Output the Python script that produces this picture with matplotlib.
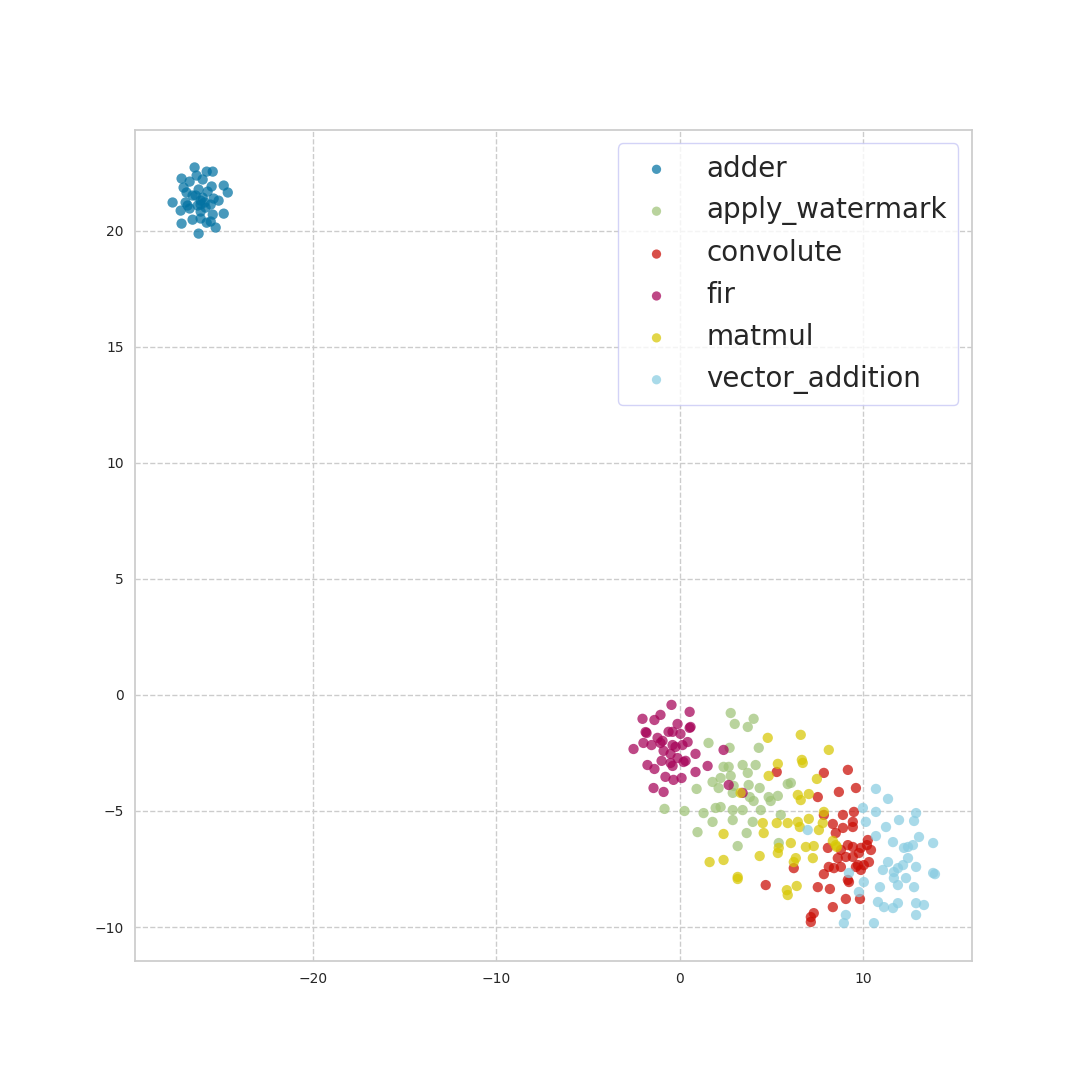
import numpy as np
import matplotlib
matplotlib.use("Agg")
import matplotlib.pyplot as plt

# --------------------------------------------------------------------------------
# DATA (t-SNE style 2D embedding)

labels = ["adder", "apply_watermark", "convolute", "fir", "matmul", "vector_addition"]
colors = ["#0272a2", "#9fc377", "#ca0b03", "#a50258", "#d7c703", "#88cce1"]

adder_x = [-26.45, -25.46, -25.79, -27.16, -26.34, -26.72, -26.01, -25.52, -27.05, -24.86,
           -26.23, -26.89, -25.74, -24.64, -26.56, -26.01, -25.41, -27.65, -26.94, -26.12,
           -25.90, -25.14, -27.21, -26.72, -26.12, -25.46, -24.86, -26.56, -26.12, -25.79,
           -27.16, -25.57, -25.30, -26.23, -26.83, -26.28, -25.85, -26.39, -26.12, -25.57]
adder_y = [22.72, 22.54, 22.54, 22.24, 22.37, 22.11, 22.20, 21.90, 21.85, 21.94,
           21.77, 21.64, 21.68, 21.64, 21.51, 21.42, 21.38, 21.21, 21.21, 21.29,
           21.21, 21.29, 20.86, 20.95, 20.82, 20.69, 20.73, 20.47, 20.52, 20.34,
           20.30, 20.39, 20.13, 19.87, 21.08, 21.08, 20.99, 21.51, 21.12, 21.12]

watermark_x = [2.79, 3.01, 4.04, 3.72, 1.58, 2.73, 4.32, 5.90, 2.40, 2.68,
               3.44, 4.15, 3.72, 1.80, 2.24, 2.79, 2.13, 2.95, 3.77, 4.37,
               2.90, 3.83, 4.04, 4.86, 5.36, 4.97, 0.93, 0.27, -0.82, 1.31,
               1.97, 2.24, 2.90, 3.44, 4.43, 5.52, 1.80, 2.90, 3.99, 0.98,
               3.66, 3.17, 5.41, 6.07]
watermark_y = [-0.78, -1.25, -1.03, -1.38, -2.07, -2.28, -2.28, -3.84, -3.10, -3.10,
               -3.02, -3.02, -3.36, -3.75, -3.58, -3.49, -4.01, -3.92, -3.88, -4.01,
               -4.22, -4.40, -4.57, -4.40, -4.35, -4.57, -4.05, -5.00, -4.91, -5.09,
               -4.87, -4.83, -4.96, -4.96, -4.96, -5.17, -5.47, -5.39, -5.47, -5.91,
               -5.95, -6.51, -6.38, -3.79]

convolute_x = [5.30, 9.18, 7.87, 9.62, 8.69, 7.54, 8.91, 9.51, 9.45, 7.87,
               8.36, 8.91, 8.52, 9.45, 8.09, 9.18, 9.45, 9.89, 9.78, 10.27,
               10.44, 8.80, 9.07, 8.63, 9.45, 9.73, 10.05, 10.33, 8.14, 8.42,
               8.80, 7.87, 9.62, 9.89, 6.23, 9.18, 9.24, 7.54, 8.20, 9.07,
               9.84, 7.32, 7.16, 7.16, 8.36, 4.70, 10.22]
convolute_y = [-3.32, -3.23, -3.36, -4.01, -4.18, -4.40, -5.17, -5.04, -5.47, -5.17,
               -5.56, -5.73, -5.95, -5.69, -6.59, -6.47, -6.55, -6.59, -6.81, -6.25,
               -6.68, -6.68, -6.98, -7.03, -6.98, -7.33, -7.33, -7.20, -7.41, -7.46,
               -7.41, -7.72, -7.41, -7.54, -7.46, -7.97, -8.06, -8.28, -8.36, -8.79,
               -8.79, -9.40, -9.57, -9.78, -9.14, -8.19, -6.47]

fir_x = [-0.44, 0.55, -2.02, -1.37, -1.04, -0.11, -1.80, -1.85, -0.60, -0.38,
         0.05, 0.60, 0.55, -1.20, -0.93, -2.51, -1.97, -1.53, -1.04, -0.38,
         -0.22, 0.16, 0.44, -0.87, 0.87, -0.49, -1.75, -1.37, -0.98, -0.49,
         -0.38, -0.11, 0.22, 0.33, 0.87, 1.53, -0.77, -0.33, 0.11, -1.42,
         -0.87, 2.40, 2.68, 3.44]
fir_y = [-0.43, -0.73, -1.03, -1.08, -0.86, -1.25, -1.64, -1.60, -1.59, -1.59,
         -1.68, -1.38, -1.42, -1.85, -1.98, -2.33, -2.07, -2.16, -2.07, -2.16,
         -2.24, -2.16, -2.03, -2.41, -2.54, -2.54, -3.02, -3.19, -2.84, -2.93,
         -3.06, -2.72, -2.89, -2.84, -3.32, -3.06, -3.53, -3.66, -3.58, -4.01,
         -4.18, -2.37, -3.88, -4.22]

matmul_x = [4.81, 6.61, 8.14, 6.67, 6.72, 5.36, 4.86, 7.49, 3.33, 6.45,
            7.05, 6.61, 7.87, 7.81, 7.60, 7.05, 6.45, 5.90, 6.56, 4.54,
            4.59, 5.30, 2.40, 5.41, 5.36, 4.37, 1.64, 2.40, 3.17, 3.17,
            5.85, 5.90, 6.39, 6.07, 6.89, 7.32, 6.34, 6.23, 7.27, 8.52,
            8.58, 8.36]
matmul_y = [-1.85, -1.72, -2.37, -2.80, -2.93, -2.97, -3.49, -3.62, -4.22, -4.31,
            -4.27, -4.53, -5.04, -5.52, -5.82, -5.34, -5.47, -5.52, -5.69, -5.52,
            -5.95, -5.52, -5.99, -6.59, -6.81, -6.94, -7.20, -7.11, -7.84, -7.93,
            -8.41, -8.62, -8.23, -6.38, -6.55, -6.51, -7.03, -7.20, -7.03, -6.47,
            -6.55, -6.29]

vecadd_x = [10.71, 11.37, 10.00, 10.71, 12.90, 12.79, 11.97, 10.16, 11.26, 10.71,
            13.06, 11.64, 12.73, 13.83, 12.24, 12.46, 12.46, 11.37, 12.19, 12.90,
            11.91, 11.09, 11.69, 11.69, 12.35, 13.83, 13.93, 10.05, 11.91, 10.93,
            12.79, 10.82, 11.15, 11.64, 11.91, 12.90, 13.33, 12.90, 10.60, 9.78,
            9.24, 9.07, 8.96, 6.99]
vecadd_y = [-4.05, -4.48, -4.87, -5.04, -5.09, -5.43, -5.39, -5.47, -5.69, -6.08,
            -6.12, -6.34, -6.47, -6.38, -6.59, -6.55, -7.03, -7.20, -7.33, -7.41,
            -7.46, -7.54, -7.63, -7.89, -7.89, -7.67, -7.72, -8.06, -8.19, -8.28,
            -8.28, -8.92, -9.14, -9.18, -8.97, -8.97, -9.05, -9.48, -9.83, -8.49,
            -7.67, -9.48, -9.83, -5.82]

xs = [adder_x, watermark_x, convolute_x, fir_x, matmul_x, vecadd_x]
ys = [adder_y, watermark_y, convolute_y, fir_y, matmul_y, vecadd_y]

# --------------------------------------------------------------------------------
# STYLE

plt.rcParams["font.family"] = ["DejaVu Sans"]
plt.rcParams["axes.edgecolor"] = "#cccccc"
plt.rcParams["axes.linewidth"] = 1.25
plt.rcParams["xtick.color"] = "#262626"
plt.rcParams["ytick.color"] = "#262626"
plt.rcParams["text.color"] = "#262626"

fig, ax = plt.subplots(figsize=(10.8, 10.8), dpi=100)
fig.subplots_adjust(left=0.125, right=0.9, bottom=0.11, top=0.88)

for x, y, c, lab in zip(xs, ys, colors, labels):
    ax.scatter(x, y, c=c, s=55, alpha=0.72, edgecolors="none", label=lab)

ax.set_xlim(-29.7, 15.95)
ax.set_ylim(-11.47, 24.35)
ax.set_xticks([-20, -10, 0, 10])
ax.set_yticks([-10, -5, 0, 5, 10, 15, 20])
ax.tick_params(length=0, labelsize=10, pad=8)
ax.grid(True, linestyle="--", color="#cccccc", linewidth=1)
ax.set_axisbelow(True)

leg = ax.legend(loc="upper right", fontsize=20, frameon=True, fancybox=True,
                labelcolor="#262626", markerscale=0.9)
leg.get_frame().set_edgecolor("#c8c8f5")
leg.get_frame().set_linewidth(1.0)

plt.savefig("out.png", dpi=100)
